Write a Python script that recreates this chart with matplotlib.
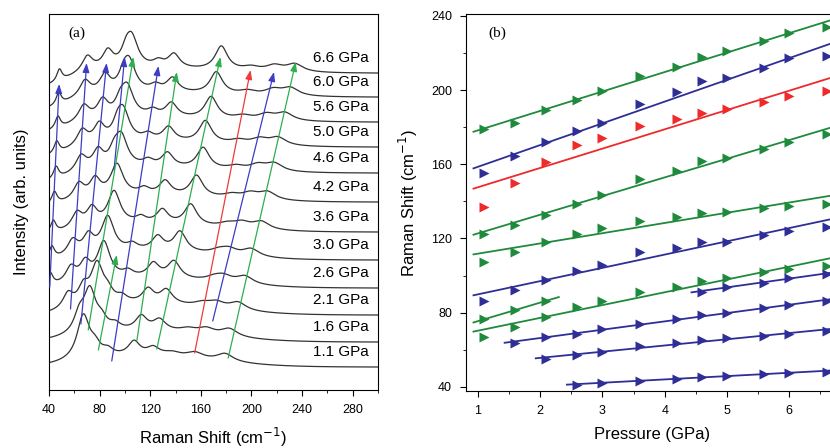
import numpy as np
import matplotlib
matplotlib.use("Agg")
import matplotlib.pyplot as plt
from matplotlib.ticker import MultipleLocator

plt.rcParams['font.family'] = ['Liberation Sans', 'DejaVu Sans']

nan = np.nan
pressure = np.array([1.1, 1.6, 2.1, 2.6, 3.0, 3.6, 4.2, 4.6, 5.0, 5.6, 6.0, 6.6])
pressure_labels = ["1.1 GPa", "1.6 GPa", "2.1 GPa", "2.6 GPa", "3.0 GPa", "3.6 GPa",
                   "4.2 GPa", "4.6 GPa", "5.0 GPa", "5.6 GPa", "6.0 GPa", "6.6 GPa"]

# Raman modes vs pressure (cm-1), panel (b)
g1 = [179.1, 182.5, 189.3, 194.7, 199.7, 207.7, 212.7, 218.0, 220.8, 226.2, 230.7, 234.2]
b1 = [155.2, 164.2, 172.2, 178.0, 182.2, 192.4, 199.2, 205.1, 206.4, 211.8, 217.2, 218.1]
r1 = [137.2, 149.8, 161.0, 170.5, 174.1, 180.7, 184.5, 187.9, 189.7, 193.3, 196.9, 199.7]
g2 = [122.3, 127.3, 132.7, 138.7, 143.5, 152.0, 156.6, 161.8, 163.6, 168.1, 172.2, 176.2]
g3 = [107.2, 112.9, 118.3, 122.5, 125.9, 129.6, 131.8, 133.6, 134.5, 136.7, 137.6, 138.7]
b2 = [86.5, 92.3, 97.7, 102.5, 105.8, 112.6, 115.1, 118.3, 118.3, 122.0, 124.1, 126.4]
g4 = [76.4, 81.5, 86.4, nan, nan, nan, nan, nan, nan, nan, nan, nan]
g5 = [67.1, 72.2, 77.9, 83.3, 86.4, 91.4, 93.7, 97.1, 98.6, 101.8, 103.4, 105.4]
b3 = [nan, nan, nan, nan, nan, nan, nan, 91.4, 94.1, 96.2, 98.9, 100.9]
b4 = [nan, 63.9, 67.1, 68.6, 71.1, 73.9, 76.4, 78.8, 79.7, 82.4, 84.2, 86.5]
b5 = [nan, nan, 55.0, 57.3, 58.7, 62.1, 63.6, 65.3, 66.2, 67.5, 68.4, 70.3]
b6 = [nan, nan, nan, 41.1, 42.3, 43.4, 44.3, 45.6, 46.1, 47.0, 47.7, 48.2]

# peak heights (arb.) and half widths (cm-1) used for the spectra, panel (a)
amp_g1, amp_b1, amp_r1 = 8, 6, 4
amp_g2 = [8, 11, 14, 17, 20, 21, 21, 21, 22, 22, 22, 24]
amp_g3, amp_b2, amp_g4 = 14, 6, 10
amp_g5 = [44, 42, 40, 37, 35, 33, 31, 30, 29, 29, 29, 29]
amp_b3, amp_b4, amp_b5, amp_b6 = 12, 17, 15, 12
hw = dict(g1=8, b1=8, r1=8, g2=6, g3=5.5, b2=5, g4=5, g5=6, b3=4.5, b4=5, b5=5, b6=2.5)

offsets = [23, 48, 75, 102, 130, 158, 188, 217, 243, 268, 293, 317]
left_drop = [2, 2, 3, 3, 4, 6, 7, 12, 13, 13, 15, 16]
hump = [10, 10, 10, 9, 8, 7, 6, 5, 5, 4, 4, 4]

# guide arrows in panel (a)
arrow_col = ["b", "b", "b", "b", "b", "b", "r", "g", "g", "g", "g", "g"]
arrow_x0 = [40.6, 57.0, 65.2, 91.4, 89.6, 169.4, 155.1, 181.6, 125.2, 109.4, 71.0, 79.0]
arrow_x1 = [48.0, 69.7, 85.5, 99.8, 126.5, 217.8, 199.3, 235.0, 175.5, 141.0, 106.7, 93.5]
arrow_y0 = [103, 81, 66, 220, 29, 69, 37, 32, 41, 49, 60, 40]
arrow_y1 = [306, 327, 327, 333, 324, 318, 320, 328, 333, 318, 333, 135]

GREEN = "#1f8a3c"
BLUE = "#2e2e96"
RED = "#ee2a2a"
line_cols = {"b": "#3c3cc4", "g": "#2eae4e", "r": "#f03a3a"}

fig = plt.figure(figsize=(8.3, 4.48), dpi=100)
axa = fig.add_axes([49/830, 58/448, 329/830, 376/448])
axb = fig.add_axes([466/830, 57/448, 398/830, 377/448])

# ---------- panel (a)
x = np.linspace(40, 300, 1500)
modes = [(g1, amp_g1, "g1"), (b1, amp_b1, "b1"), (r1, amp_r1, "r1"), (g2, amp_g2, "g2"),
         (g3, amp_g3, "g3"), (b2, amp_b2, "b2"), (g4, amp_g4, "g4"), (g5, amp_g5, "g5"),
         (b3, amp_b3, "b3"), (b4, amp_b4, "b4"), (b5, amp_b5, "b5"), (b6, amp_b6, "b6")]

for i in range(len(pressure)):
    y = np.zeros_like(x)
    for pos, amp, key in modes:
        p = pos[i]
        if np.isnan(p):
            continue
        a = amp[i] if np.ndim(amp) else amp
        w = hw[key]
        y += a * w**2 / ((x - p)**2 + w**2)
    y += hump[i] * np.exp(-((x - 115) / 75)**2)
    y -= left_drop[i] * (1 - 1 / (1 + np.exp(-(x - 55) / 9)))
    y = y - y[-1] + offsets[i]
    axa.plot(x, y, color="#333333", lw=0.9)
    axa.text(293, offsets[i] + 15, pressure_labels[i], ha="right", va="center", fontsize=11)

for c, xa, xb, ya, yb in zip(arrow_col, arrow_x0, arrow_x1, arrow_y0, arrow_y1):
    axa.annotate("", (xb, yb), (xa, ya),
                 arrowprops=dict(arrowstyle="-|>, head_length=0.55, head_width=0.2",
                                 color=line_cols[c], lw=0.9, shrinkA=0, shrinkB=0))

axa.set_xlim(40, 300)
axa.set_ylim(0, 376)
axa.set_yticks([])
axa.xaxis.set_major_locator(MultipleLocator(40))
axa.xaxis.set_minor_locator(MultipleLocator(20))
axa.tick_params(axis="x", which="major", direction="out", length=4, labelsize=9, pad=6)
axa.tick_params(axis="x", which="minor", direction="out", length=2.5)
axa.set_xlabel("Raman Shift (cm$^{-1}$)", fontsize=12)
axa.xaxis.set_label_coords(0.5, -0.095)
axa.set_ylabel("Intensity (arb. units)", fontsize=12)
axa.yaxis.set_label_coords(-0.06, 0.5)
axa.text(0.06, 0.95, "(a)", transform=axa.transAxes, fontsize=11,
         family="Liberation Serif", va="center")

# ---------- panel (b)
series_b = [(g1, GREEN), (b1, BLUE), (r1, RED), (g2, GREEN), (g3, GREEN), (b2, BLUE),
            (g4, GREEN), (g5, GREEN), (b3, BLUE), (b4, BLUE), (b5, BLUE), (b6, BLUE)]
for vals, col in series_b:
    vals = np.array(vals)
    ok = ~np.isnan(vals)
    px, py = pressure[ok], vals[ok]
    axb.plot(px, py, ">", color=col, ms=7.5, mec="none")
    k, b = np.polyfit(px, py, 1)
    x_end = 7.2 if px[-1] > 6 else px[-1] + 0.2
    xf = np.array([px[0] - 0.17, x_end])
    axb.plot(xf, k * xf + b, color=col, lw=1.3)

axb.set_xlim(0.81, 7.2)
axb.set_ylim(37.8, 241)
axb.set_xticks([1, 2, 3, 4, 5, 6])
axb.xaxis.set_minor_locator(MultipleLocator(0.5))
axb.yaxis.set_major_locator(MultipleLocator(40))
axb.yaxis.set_minor_locator(MultipleLocator(20))
axb.tick_params(which="major", direction="out", length=4, labelsize=9, pad=6)
axb.tick_params(which="minor", direction="out", length=2.5)
axb.set_xlabel("Pressure (GPa)", fontsize=12)
axb.xaxis.set_label_coords((652 - 466) / 398, -0.095)
axb.set_ylabel("Raman Shift (cm$^{-1}$)", fontsize=12)
axb.yaxis.set_label_coords(-0.115, 0.5)
axb.text(0.055, 0.95, "(b)", transform=axb.transAxes, fontsize=11,
         family="Liberation Serif", va="center")

fig.savefig("out.png", dpi=100)
